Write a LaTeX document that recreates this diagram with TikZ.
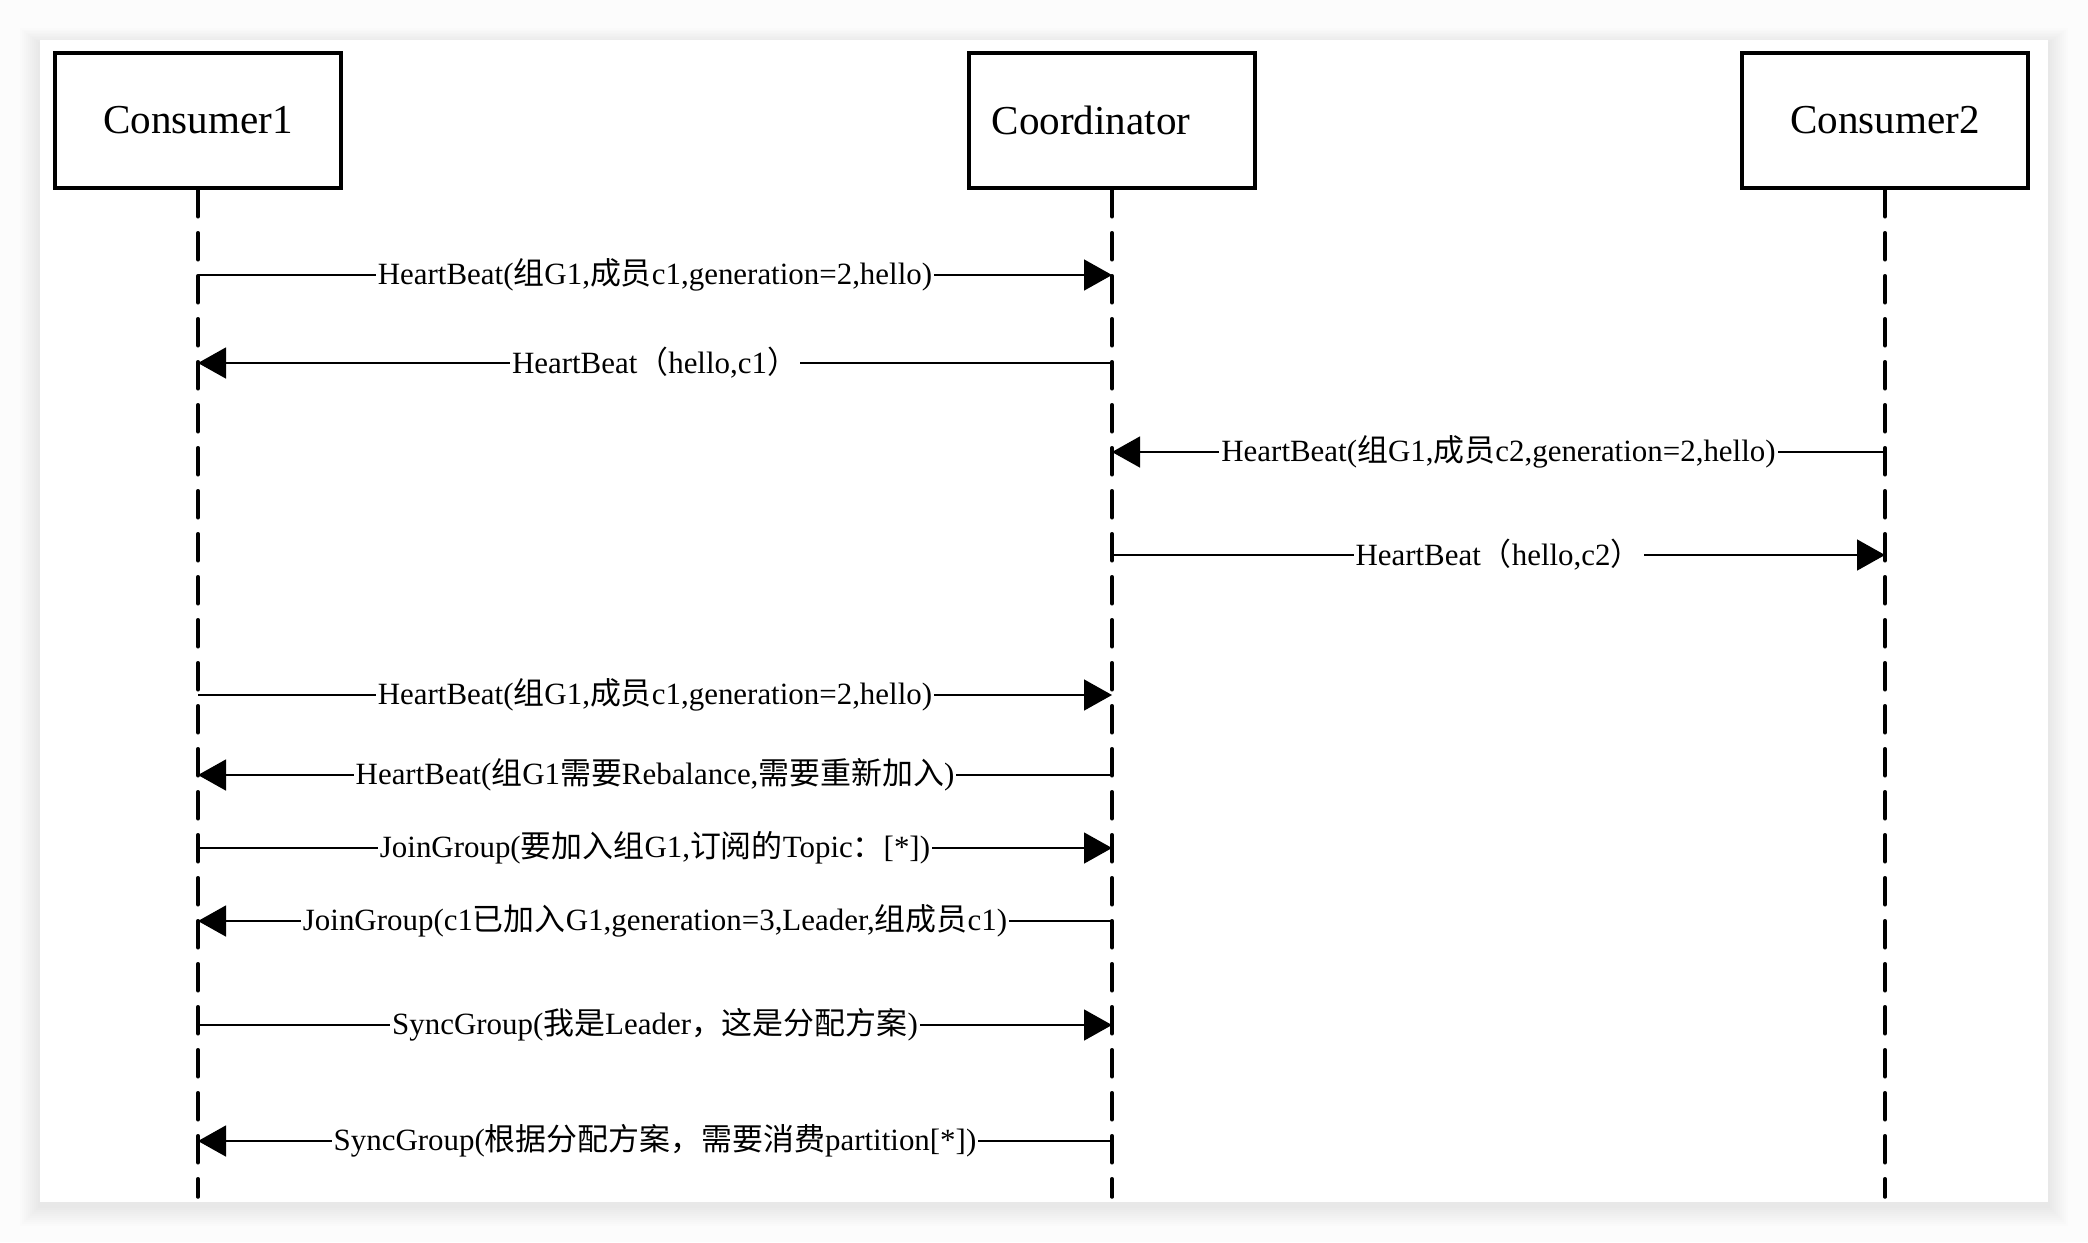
\documentclass[tikz,border=0pt]{standalone}
\usepackage{fontspec}
\setmainfont{Liberation Serif}
\newfontfamily\cjk{Noto Sans CJK SC}
\newcommand{\zh}[1]{{\cjk #1}}
\usetikzlibrary{arrows.meta}

\begin{document}
\begin{tikzpicture}[x=0.1mm,y=-0.1mm,
    actor/.style={draw,fill=white,line width=0.35mm,minimum width=28.6mm,minimum height=13.5mm,
      font=\fontsize{11.7}{13}\selectfont},
    life/.style={line width=0.35mm,dash pattern=on 2.7mm off 1.6mm,line cap=round},
    msg/.style={line width=0.15mm,-{Triangle[length=2.8mm,width=3.1mm]}},
    lbl/.style={fill=white,inner sep=0.2mm,font=\fontsize{8.8}{10}\selectfont}]
        \useasboundingbox (0,0) rectangle (2088,1242);
        % page and card with a soft shadow
        \fill[gray!2] (0,0) rectangle (2088,1242);
        \foreach \s in {1,...,10}
            \fill[black,opacity=0.009] (40-2*\s,40-1.5*\s+3) rectangle (2048+2*\s,1202+2*\s+4);
        \fill[white] (40,40) rectangle (2048,1202);
        % actors
        \node[actor] (c1) at (198,120.5) {Consumer1};
        \node[actor] (co) at (1112,120.5) {Coordinator\kern4.2mm};
        \node[actor] (c2) at (1885,120.5) {Consumer2};
        % lifelines
        \coordinate (c1end) at (c1 |- 0,1197);
        \coordinate (coend) at (co |- 0,1197);
        \coordinate (c2end) at (c2 |- 0,1197);
        \draw[life] (c1.south) -- (c1end);
        \draw[life] (co.south) -- (coend);
        \draw[life] (c2.south) -- (c2end);
        % messages
        \path (c1 |- 0,275) coordinate (a1) (co |- 0,275) coordinate (b1);
        \draw[msg] (a1) -- node[lbl] {HeartBeat(\zh{组}G1,\zh{成员}c1,generation=2,hello)} (b1);
        \path (c1 |- 0,363) coordinate (a2) (co |- 0,363) coordinate (b2);
        \draw[msg] (b2) -- node[lbl] {HeartBeat\zh{（}hello,c1\zh{）}} (a2);
        \path (co |- 0,452) coordinate (b3) (c2 |- 0,452) coordinate (d3);
        \draw[msg] (d3) -- node[lbl] {HeartBeat(\zh{组}G1,\zh{成员}c2,generation=2,hello)} (b3);
        \path (co |- 0,555) coordinate (b4) (c2 |- 0,555) coordinate (d4);
        \draw[msg] (b4) -- node[lbl] {HeartBeat\zh{（}hello,c2\zh{）}} (d4);
        \path (c1 |- 0,695) coordinate (a5) (co |- 0,695) coordinate (b5);
        \draw[msg] (a5) -- node[lbl] {HeartBeat(\zh{组}G1,\zh{成员}c1,generation=2,hello)} (b5);
        \path (c1 |- 0,775) coordinate (a6) (co |- 0,775) coordinate (b6);
        \draw[msg] (b6) -- node[lbl] {HeartBeat(\zh{组}G1\zh{需要}Rebalance,\zh{需要重新加入})} (a6);
        \path (c1 |- 0,848) coordinate (a7) (co |- 0,848) coordinate (b7);
        \draw[msg] (a7) -- node[lbl] {JoinGroup(\zh{要加入组}G1,\zh{订阅的}Topic\zh{：}[*])} (b7);
        \path (c1 |- 0,921) coordinate (a8) (co |- 0,921) coordinate (b8);
        \draw[msg] (b8) -- node[lbl] {JoinGroup(c1\zh{已加入}G1,generation=3,Leader,\zh{组成员}c1)} (a8);
        \path (c1 |- 0,1025) coordinate (a9) (co |- 0,1025) coordinate (b9);
        \draw[msg] (a9) -- node[lbl] {SyncGroup(\zh{我是}Leader\zh{，这是分配方案})} (b9);
        \path (c1 |- 0,1141) coordinate (a10) (co |- 0,1141) coordinate (b10);
        \draw[msg] (b10) -- node[lbl] {SyncGroup(\zh{根据分配方案，需要消费}partition[*])} (a10);
    \end{tikzpicture}
\end{document}
